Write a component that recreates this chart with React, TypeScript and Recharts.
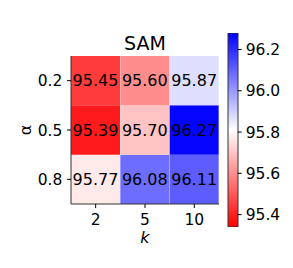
import React from 'react'
import { BarChart, Bar, XAxis, YAxis, Cell, LabelList } from 'recharts'

const kLabels = ['2', '5', '10']
const alphaLabels = ['0.2', '0.5', '0.8']
const scoresAlpha02 = [95.45, 95.6, 95.87]
const scoresAlpha05 = [95.39, 95.7, 96.27]
const scoresAlpha08 = [95.77, 96.08, 96.11]
const colorbarTicks = [95.4, 95.6, 95.8, 96.0, 96.2]

const vmin = 95.34
const vmax = 96.28
const font = 'DejaVu Sans, sans-serif'

// bwr_r: red -> white -> blue
function bwrR(v: number) {
  const t = Math.min(1, Math.max(0, (v - vmin) / (vmax - vmin)))
  let r, g, b
  if (t < 0.5) {
    r = 255
    g = b = Math.round(510 * t)
  } else {
    r = g = Math.round(510 * (1 - t))
    b = 255
  }
  return `rgb(${r},${g},${b})`
}

const rows = kLabels.map((k, i) => ({
  k,
  c08: 1,
  c05: 1,
  c02: 1,
  s08: scoresAlpha08[i],
  s05: scoresAlpha05[i],
  s02: scoresAlpha02[i],
}))

const yTickLabel: Record<string, string> = {
  '0.5': alphaLabels[2],
  '1.5': alphaLabels[1],
  '2.5': alphaLabels[0],
}

const tickStyle = { fill: '#000', fontSize: 15.5, fontFamily: font }
const frame = '#333'

const layers = [
  { cell: 'c08', score: 's08', values: scoresAlpha08 },
  { cell: 'c05', score: 's05', values: scoresAlpha05 },
  { cell: 'c02', score: 's02', values: scoresAlpha02 },
]

export default function App() {
  return (
    <div style={{ position: 'absolute', left: 0, top: 0, width: 293, height: 268, background: '#fff', fontFamily: font }}>
      <div style={{ position: 'absolute', left: 0, top: 0 }}>
        <BarChart
          width={293}
          height={268}
          data={rows}
          margin={{ top: 56, right: 74, bottom: 20, left: 20 }}
          barCategoryGap={0}
          barGap={0}
        >
          <XAxis
            dataKey="k"
            tick={tickStyle}
            tickSize={4}
            tickMargin={6}
            height={44}
            axisLine={{ stroke: frame }}
            tickLine={{ stroke: '#000' }}
            label={{ value: 'k', position: 'insideBottom', offset: 5, fill: '#000', fontSize: 16, fontStyle: 'italic', fontFamily: font }}
          />
          <XAxis
            xAxisId="top"
            dataKey="k"
            orientation="top"
            height={0}
            tick={false}
            tickLine={false}
            axisLine={{ stroke: frame }}
          />
          <YAxis
            type="number"
            domain={[0, 3]}
            ticks={[0.5, 1.5, 2.5]}
            tickFormatter={(v) => yTickLabel[String(v)]}
            tick={tickStyle}
            tickSize={4}
            tickMargin={4.7}
            width={51}
            axisLine={{ stroke: frame }}
            tickLine={{ stroke: '#000' }}
          />
          <YAxis
            yAxisId="right"
            orientation="right"
            type="number"
            domain={[0, 3]}
            width={0}
            tick={false}
            tickLine={false}
            axisLine={{ stroke: frame }}
          />
          {layers.map((layer) => (
            <Bar key={layer.cell} dataKey={layer.cell} stackId="a" isAnimationActive={false}>
              {layer.values.map((v, i) => (
                <Cell key={i} fill={bwrR(v)} />
              ))}
              <LabelList
                dataKey={layer.score}
                position="center"
                formatter={(v: any) => Number(v).toFixed(2)}
                fill="#000"
                fontSize={16}
                fontFamily={font}
              />
            </Bar>
          ))}
        </BarChart>
      </div>
      <div style={{ position: 'absolute', left: 0, top: 0 }}>
        <BarChart
          width={293}
          height={268}
          data={[{ name: 'cb', value: vmax }]}
          margin={{ top: 33, right: 0, bottom: 41, left: 228 }}
          barCategoryGap={0}
        >
          <defs>
            <linearGradient id="cbGrad" x1="0" y1="1" x2="0" y2="0">
              <stop offset="0" stopColor="rgb(255,0,0)" />
              <stop offset="0.5" stopColor="rgb(255,255,255)" />
              <stop offset="1" stopColor="rgb(0,0,255)" />
            </linearGradient>
          </defs>
          <XAxis dataKey="name" hide />
          <YAxis
            orientation="right"
            type="number"
            domain={[vmin, vmax]}
            ticks={colorbarTicks}
            tickFormatter={(v) => Number(v).toFixed(1)}
            tick={tickStyle}
            tickSize={4}
            tickMargin={4}
            width={55.3}
            axisLine={false}
            tickLine={{ stroke: '#000' }}
            allowDataOverflow
          />
          <Bar dataKey="value" fill="url(#cbGrad)" stroke={frame} strokeWidth={1} isAnimationActive={false} />
        </BarChart>
      </div>
      <svg width={293} height={268} style={{ position: 'absolute', left: 0, top: 0, pointerEvents: 'none' }}>
        <text x={145} y={50} textAnchor="middle" fontSize={19} fontFamily={font} fill="#000">
          SAM
        </text>
        <text
          x={25}
          y={130}
          textAnchor="middle"
          dominantBaseline="central"
          fontSize={16}
          fontFamily={font}
          fill="#000"
          transform="rotate(-90 25 130)"
        >
          α
        </text>
      </svg>
    </div>
  )
}
